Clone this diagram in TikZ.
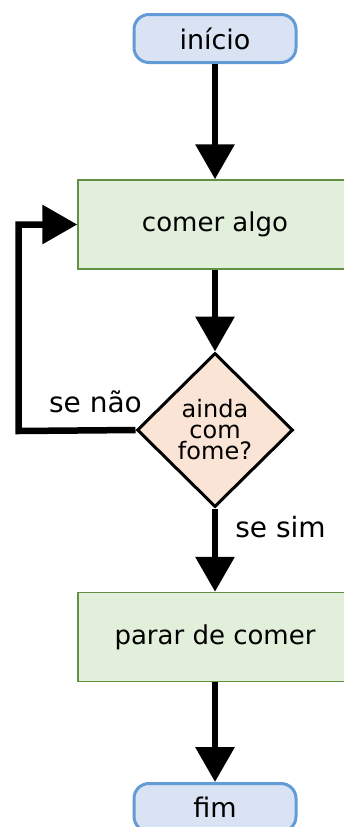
\documentclass[tikz,border=0pt]{standalone}
\usepackage{fontspec}
\setmainfont{DejaVu Sans}
\usetikzlibrary{arrows.meta,shapes.geometric}
\definecolor{bstroke}{RGB}{98,155,213}
\definecolor{bfill}{RGB}{218,227,243}
\definecolor{gstroke}{RGB}{98,145,70}
\definecolor{gfill}{RGB}{226,239,218}
\definecolor{pfill}{RGB}{250,228,213}
\tikzset{
  term/.style={draw=bstroke, fill=bfill, line width=3pt, rounded corners=15pt,
    minimum width=162pt, minimum height=48pt, inner sep=0pt,
    font=\fontsize{27}{30}\selectfont},
  procbox/.style={draw=gstroke, fill=gfill, line width=1.5pt,
    minimum width=274pt, minimum height=89pt, inner sep=0pt,
    font=\fontsize{26}{30}\selectfont},
  decision/.style={diamond, draw=black, fill=pfill, line width=3pt,
    minimum width=156pt, minimum height=154pt, inner sep=0pt, align=center,
    font=\fontsize{24}{21}\selectfont},
  flow/.style={line width=6.5pt, line join=miter,
    -{Triangle[length=35pt,width=38pt]}},
  lbl/.style={anchor=base, inner sep=0pt, font=\fontsize{28}{30}\selectfont}
}
\begin{document}
\begin{tikzpicture}[x=1pt,y=-1pt]
\useasboundingbox (0,0) rectangle (344,827);
\node[term] (ini) at (215,38.5) {início};
\node[procbox] (com) at (215,224.5) {comer algo};
\node[decision] (dec) at (215,430) {ainda\\com\\fome?};
\node[procbox] (par) at (215,637) {parar de comer};
\node[term] (fim) at (215,807.5) {fim};
\coordinate (lp) at (18.5,431);
\draw[flow] (ini.south) -- (com.north);
\draw[flow] (com.south) -- (dec.north);
\draw[flow] (dec.west) -- (lp) |- (com.west);
\draw[flow] (dec.south) -- (par.north);
\draw[flow] (par.south) -- (fim.north);
\node[lbl] (nao) at (95.5,412) {se não};
\node[lbl] (sim) at (280.5,537) {se sim};
\end{tikzpicture}
\end{document}
